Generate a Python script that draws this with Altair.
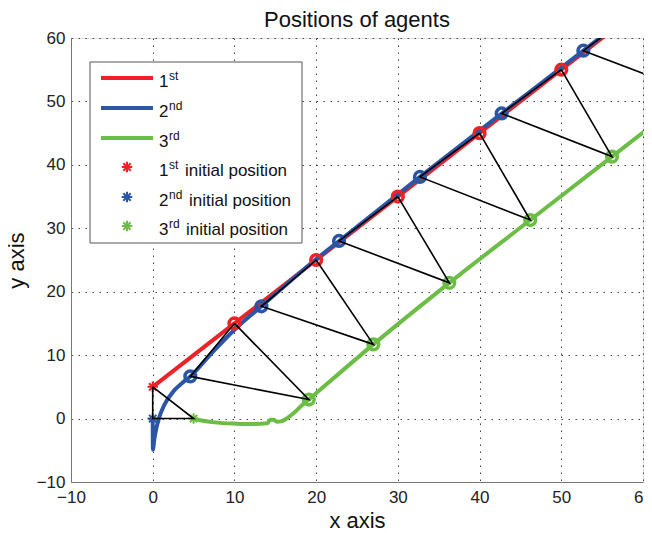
import altair as alt
import pandas as pd

# ---------------- data ----------------
red_path_x = [0, 10, 20, 30, 40, 50, 60]
red_path_y = [5, 15, 25, 35, 45, 55, 65]

blue_path_x = [0, 0.02, 0.2, 0.45, 0.8, 1.4, 2.6, 3.6, 4.6, 7.0, 10.0, 13.3, 16.5, 19.5, 22.8, 32.7, 42.7, 52.7, 56.0]
blue_path_y = [0, -4.9, -3.2, -1.5, 0.2, 2.1, 4.4, 5.6, 6.65, 10.0, 14.0, 17.7, 21.3, 24.6, 28.0, 38.1, 48.1, 58.0, 61.3]

green_path_x = [5, 6, 7.5, 10.3, 12, 14, 14.4, 14.8, 15.2, 15.8, 16.5, 17.3, 18.1, 19.1, 27.0, 36.3, 46.2, 56.2, 62.0]
green_path_y = [0, -0.3, -0.6, -0.8, -0.85, -0.75, -0.2, -0.2, -0.5, -0.4, 0.1, 0.9, 1.9, 3.0, 11.7, 21.4, 31.3, 41.3, 47.1]

red_circle_x = [10, 20, 30, 40, 50]
red_circle_y = [15, 25, 35, 45, 55]
blue_circle_x = [4.6, 13.3, 22.8, 32.7, 42.7, 52.7]
blue_circle_y = [6.65, 17.7, 28.0, 38.1, 48.1, 58.0]
green_circle_x = [19.1, 27.0, 36.3, 46.2, 56.2]
green_circle_y = [3.0, 11.7, 21.4, 31.3, 41.3]

# triangle vertices per step (red, blue, green)
tri_red_x = [0, 10, 20, 30, 40, 50, 60]
tri_red_y = [5, 15, 25, 35, 45, 55, 65]
tri_blue_x = [0, 4.6, 13.3, 22.8, 32.7, 42.7, 52.7]
tri_blue_y = [0, 6.65, 17.7, 28.0, 38.1, 48.1, 58.0]
tri_green_x = [5, 19.1, 27.0, 36.3, 46.2, 56.2, 66.0]
tri_green_y = [0, 3.0, 11.7, 21.4, 31.3, 41.3, 51.5]

init_x = [0, 0, 5]
init_y = [5, 0, 0]
agents = ["1st", "2nd", "3rd"]

tick_values = [-10, 0, 10, 20, 30, 40, 50, 60]
title_text = "Positions of agents"

# ---------------- styling ----------------
RED = "#EC2227"
BLUE = "#2B55A5"
GREEN = "#6CBD45"
FONT = "Liberation Sans"
STAR = "M0,-1V1M-1,0H1M-0.7,-0.7L0.7,0.7M-0.7,0.7L0.7,-0.7"

xs = alt.Scale(domain=[-10, 60], nice=False, zero=False)
ys = alt.Scale(domain=[-10, 60], nice=False, zero=False)

common_axis = dict(
    values=tick_values, grid=True, gridDash=[1.5, 5.5], gridColor="#444",
    gridWidth=1, ticks=False, tickSize=0, domainColor="#777", domainWidth=1,
    labelFont=FONT, labelFontSize=17, labelColor="#222", labelFlush=False,
    labelOverlap=False, titleFont=FONT, titleFontSize=22, titleFontWeight="normal",
    titleColor="#111",
)
xaxis = alt.Axis(title="x axis", labelPadding=7, titleX=286, titleY=45,
                 titleAlign="center", titleBaseline="alphabetic", **common_axis)
yaxis = alt.Axis(title="y axis", labelPadding=6, titleX=-48, titleY=222,
                 titleAngle=-90, titleAlign="center", titleBaseline="alphabetic",
                 **common_axis)

X = alt.X("x:Q", scale=xs, axis=xaxis)
Y = alt.Y("y:Q", scale=ys, axis=yaxis)


def path_df(xv, yv):
    return pd.DataFrame({"x": xv, "y": yv, "i": list(range(len(xv)))})


def line_layer(xv, yv, color, width):
    return alt.Chart(path_df(xv, yv)).mark_line(
        color=color, strokeWidth=width, clip=True, strokeCap="round", strokeJoin="round",
        interpolate="monotone"
    ).encode(x=X, y=Y, order="i:Q")


def circle_layer(xv, yv, color):
    return alt.Chart(pd.DataFrame({"x": xv, "y": yv})).mark_point(
        shape="circle", filled=False, color=color, strokeWidth=3.5, size=115,
        opacity=1, clip=True
    ).encode(x=X, y=Y)


# triangles
tri_rows = []
for k in range(len(tri_red_x)):
    pts = [(tri_red_x[k], tri_red_y[k]), (tri_blue_x[k], tri_blue_y[k]),
           (tri_green_x[k], tri_green_y[k]), (tri_red_x[k], tri_red_y[k])]
    for j, (px, py) in enumerate(pts):
        tri_rows.append({"x": px, "y": py, "k": k, "i": j})
tri_df = pd.DataFrame(tri_rows)

tri_layer = alt.Chart(tri_df).mark_line(
    color="black", strokeWidth=1.6, clip=True, strokeJoin="miter"
).encode(x=X, y=Y, detail="k:N", order="i:Q")

init_df = pd.DataFrame({"x": init_x, "y": init_y, "agent": agents})
star_layer = alt.Chart(init_df).mark_point(
    shape=STAR, filled=False, strokeWidth=2, size=110, opacity=1, clip=True
).encode(
    x=X, y=Y,
    color=alt.Color("agent:N", scale=alt.Scale(domain=agents, range=[RED, BLUE, GREEN]), legend=None),
)

layers = [
    alt.Chart(path_df(red_path_x, red_path_y)).mark_line(
        color=RED, strokeWidth=4, clip=True, strokeCap="round"
    ).encode(x=X, y=Y, order="i:Q"),
    line_layer(blue_path_x, blue_path_y, BLUE, 4),
    line_layer(green_path_x, green_path_y, GREEN, 4),
    circle_layer(red_circle_x, red_circle_y, RED),
    circle_layer(blue_circle_x, blue_circle_y, BLUE),
    circle_layer(green_circle_x, green_circle_y, GREEN),
    star_layer,
    tri_layer,
]

one = pd.DataFrame({"k": [0]})

# chart title drawn as text above the plot area
layers.append(
    alt.Chart(one).mark_text(font=FONT, fontSize=22, align="center",
                             baseline="alphabetic", color="#111").encode(
        x=alt.value(286), y=alt.value(-11), text=alt.value(title_text)
    )
)

# ---------------- custom legend (pixel layout) ----------------
layers.append(
    alt.Chart(one).mark_rect(fill="white", stroke="#555", strokeWidth=1).encode(
        x=alt.value(19), x2=alt.value(231), y=alt.value(24), y2=alt.value(205)
    )
)
row_y = [40, 70, 100, 129, 159, 188]
colors = [RED, BLUE, GREEN]
nums = ["1", "2", "3"]
sups = ["st", "nd", "rd"]
rest_x = [114, 118, 115]
for i in range(3):
    layers.append(
        alt.Chart(one).mark_rule(color=colors[i], strokeWidth=4).encode(
            x=alt.value(30), x2=alt.value(82), y=alt.value(row_y[i])
        )
    )
    layers.append(
        alt.Chart(one).mark_point(shape=STAR, filled=False, color=colors[i],
                                  strokeWidth=2, size=110, opacity=1).encode(
            x=alt.value(56), y=alt.value(row_y[i + 3])
        )
    )
    for r in (i, i + 3):
        layers.append(
            alt.Chart(one).mark_text(font=FONT, fontSize=17, align="left",
                                     baseline="alphabetic", color="#111").encode(
                x=alt.value(88), y=alt.value(row_y[r] + 9), text=alt.value(nums[i])
            )
        )
        layers.append(
            alt.Chart(one).mark_text(font=FONT, fontSize=12, align="left",
                                     baseline="alphabetic", color="#111").encode(
                x=alt.value(98), y=alt.value(row_y[r] + 2), text=alt.value(sups[i])
            )
        )
    layers.append(
        alt.Chart(one).mark_text(font=FONT, fontSize=17, align="left",
                                 baseline="alphabetic", color="#111").encode(
            x=alt.value(rest_x[i]), y=alt.value(row_y[i + 3] + 9),
            text=alt.value("initial position")
        )
    )

chart = alt.layer(*layers).properties(
    width=572, height=444,
    autosize=alt.AutoSizeParams(type="none"),
    padding={"left": 63, "top": 30, "right": 1, "bottom": 48},
).configure_view(stroke=None).configure(background="white")

chart.save("out.html", embed_options={"renderer": "svg", "actions": False})
